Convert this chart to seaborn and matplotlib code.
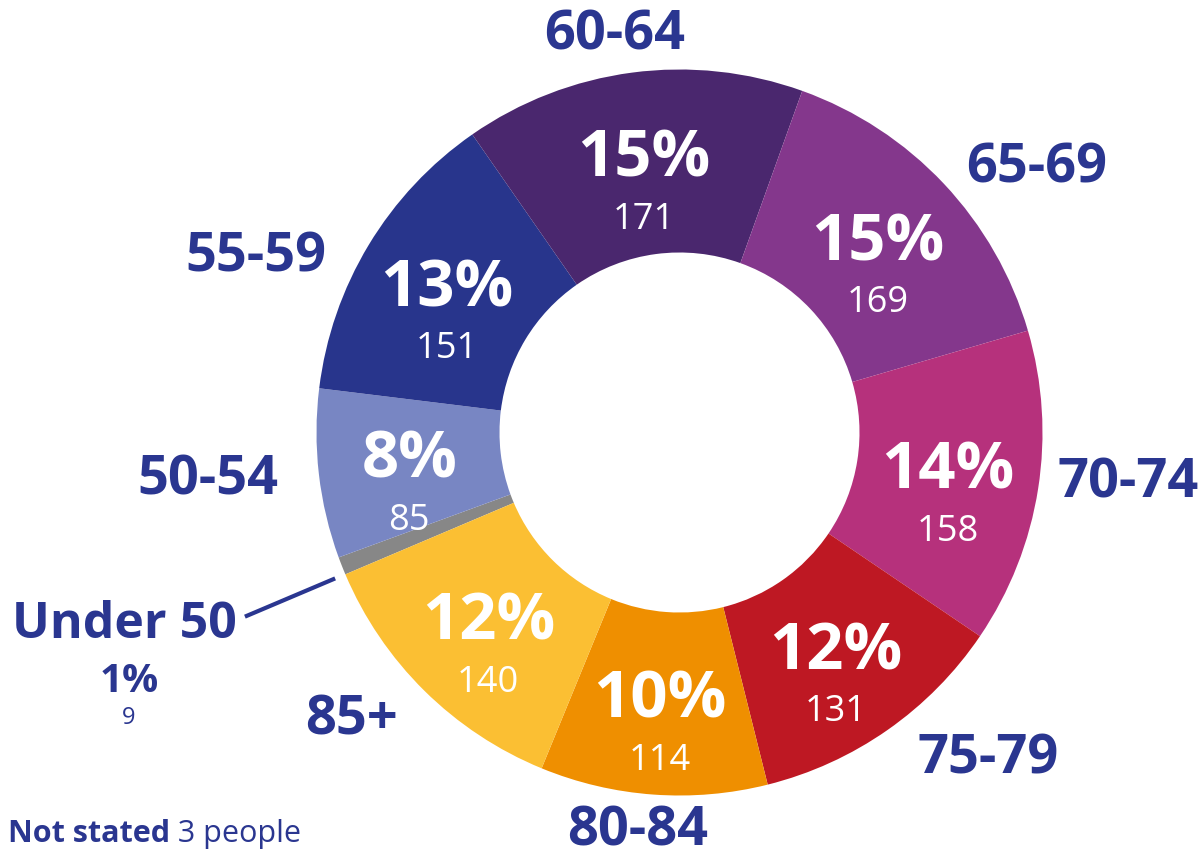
import matplotlib
matplotlib.use("Agg")
import matplotlib.pyplot as plt
import seaborn as sns
import numpy as np

# Respondents by age group
age_groups = ["Under 50", "50-54", "55-59", "60-64", "65-69", "70-74", "75-79", "80-84", "85+"]
counts = [9, 85, 151, 171, 169, 158, 131, 114, 140]
not_stated = 3
slice_colors = ["#878787", "#7886c3", "#28358c", "#4a276e", "#84378c",
                "#b6317c", "#be1823", "#ef8f00", "#fbbf33"]
navy = "#2a3690"

# Outer label placement: (angular nudge in degrees clockwise, distance from centre in px)
outer_place = {
    "Under 50": (-1.4, 472),
    "50-54": (1.3, 474),
    "55-59": (-8.1, 460),
    "60-64": (-1.6, 407),
    "65-69": (6.2, 447),
    "70-74": (-3.1, 451),
    "75-79": (-8.8, 446),
    "80-84": (1.9, 396),
    "85+": (4.5, 433),
}

sns.set_theme(style="white")
plt.rcParams["font.family"] = ["Open Sans", "DejaVu Sans"]

W, H = 1198, 861
fig = plt.figure(figsize=(W / 100, H / 100), dpi=100)
ax = fig.add_axes([0, 0, 1, 1])

cx, cy = 679.5, 428.5
r_out, r_in = 363, 180
palette = sns.color_palette(slice_colors)
total = sum(counts)

wedges, _ = ax.pie(counts, colors=palette, startangle=203, counterclock=False,
                   radius=r_out, center=(cx, cy), frame=True,
                   wedgeprops=dict(width=r_out - r_in, linewidth=0))
ax.set_xlim(0, W)
ax.set_ylim(0, H)
ax.set_aspect("equal")
ax.set_axis_off()

pcts = [round(c / total * 100) for c in counts]


def polar(theta_deg, r):
    t = np.deg2rad(theta_deg)
    return cx + r * np.cos(t), cy + r * np.sin(t)


for w, name, c, p in zip(wedges, age_groups, counts, pcts):
    mid = (w.theta1 + w.theta2) / 2
    nudge, r_lab = outer_place[name]
    if name == "Under 50":
        # thin slice: label sits outside, joined by a radial leader line
        x0, y0 = polar(mid - nudge, 374)
        x1, y1 = polar(mid - nudge, r_lab)
        ax.plot([x0, x1], [y0, y1], color=navy, lw=3, solid_capstyle="butt")
        base = y1 - 21
        t_name = ax.text(x1 - 8, base, name, ha="right", va="baseline",
                         fontsize=36, fontweight="bold", color=navy)
        ax.annotate(f"{p}%", xy=(0.52, base - 54), xycoords=(t_name, "data"),
                    ha="center", va="baseline", fontsize=29,
                    fontweight="bold", color=navy)
        ax.annotate(str(c), xy=(0.52, base - 86), xycoords=(t_name, "data"),
                    ha="center", va="baseline", fontsize=17, color=navy)
        continue

    # share and count inside the ring
    x, y = polar(mid, 272)
    ax.text(x, y - 14, f"{p}%", ha="center", va="baseline",
            fontsize=47, fontweight="bold", color="white")
    ax.text(x, y - 66, str(c), ha="center", va="baseline",
            fontsize=26, color="white")

    # age group name outside the ring
    lx, ly = polar(mid - nudge, r_lab)
    ax.text(lx, ly - 19, name, ha="center", va="baseline",
            fontsize=39, fontweight="bold", color=navy)

t_ns = ax.text(8, 19, "Not stated", ha="left", va="baseline",
               fontsize=22, fontweight="bold", color=navy)
ax.annotate(f" {not_stated} people", xy=(1, 19), xycoords=(t_ns, "data"),
            ha="left", va="baseline", fontsize=22, color=navy)

fig.savefig("out.png", dpi=100)
